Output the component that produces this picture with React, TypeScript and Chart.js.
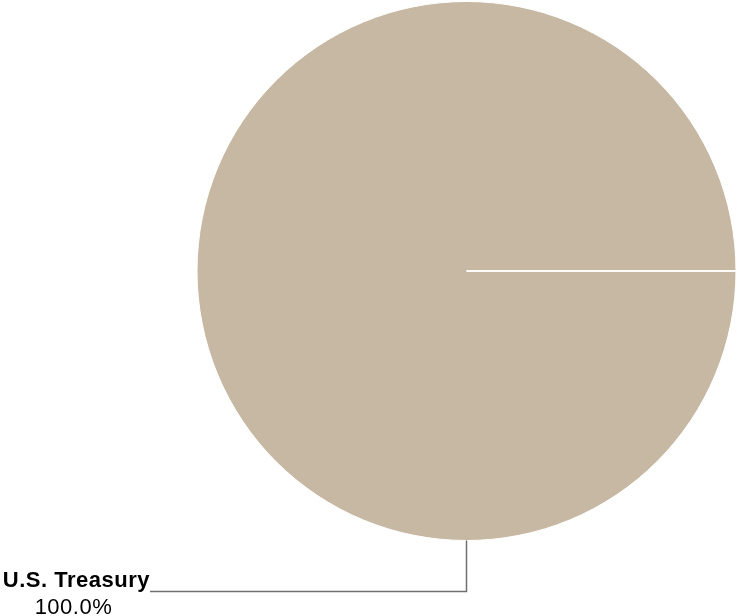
import React, { useEffect, useRef } from "react";
import { Chart, registerables } from "chart.js";

Chart.register(...registerables);

const categories: string[] = ["U.S. Treasury"];
const values: number[] = [100];
const sliceColors: string[] = ["#C7B8A3"];

const leaderPlugin = {
  id: "leaderPlugin",
  afterDatasetsDraw(chart: any) {
    const meta = chart.getDatasetMeta(0);
    const ctx = chart.ctx as CanvasRenderingContext2D;
    const total = values.reduce((a, b) => a + b, 0);
    meta.data.forEach((arc: any, i: number) => {
      const { x, y, startAngle, outerRadius } = arc.getProps(
        ["x", "y", "startAngle", "outerRadius"],
        true
      );
      // radial border line at slice start
      ctx.save();
      ctx.strokeStyle = "#ffffff";
      ctx.lineWidth = 1.5;
      ctx.beginPath();
      ctx.moveTo(x, y);
      ctx.lineTo(x + Math.cos(startAngle) * outerRadius, y + Math.sin(startAngle) * outerRadius);
      ctx.stroke();
      ctx.restore();

      // leader line from bottom of pie
      const bx = x;
      const by = y + outerRadius;
      const ly = by + 51;
      const lx = 150;
      ctx.save();
      ctx.strokeStyle = "#707070";
      ctx.lineWidth = 1.5;
      ctx.beginPath();
      ctx.moveTo(bx, by);
      ctx.lineTo(bx, ly);
      ctx.lineTo(lx, ly);
      ctx.stroke();

      const pct = ((values[i] / total) * 100).toFixed(1) + "%";
      ctx.fillStyle = "#000000";
      (ctx as any).letterSpacing = "0.5px";
      ctx.font = "bold 22px 'Liberation Sans', Arial, sans-serif";
      ctx.textBaseline = "alphabetic";
      ctx.textAlign = "left";
      const w1 = ctx.measureText(categories[i]).width;
      const x1 = lx - w1;
      ctx.fillText(categories[i], x1, ly - 5);
      ctx.font = "22px 'Liberation Sans', Arial, sans-serif";
      const w2 = ctx.measureText(pct).width;
      ctx.fillText(pct, x1 + (w1 - w2) / 2 - 3, ly + 22);
      ctx.restore();
    });
  },
};

export default function App() {
  const ref = useRef<HTMLCanvasElement | null>(null);
  useEffect(() => {
    if (!ref.current) return;
    const chart = new Chart(ref.current, {
      type: "pie",
      data: {
        labels: categories,
        datasets: [
          {
            data: values,
            backgroundColor: sliceColors,
            borderColor: "#ffffff",
            borderWidth: 1,
          },
        ],
      },
      options: {
        responsive: false,
        maintainAspectRatio: false,
        animation: false,
        rotation: 90,
        layout: { padding: { left: 196, right: 1, top: 1, bottom: 75 } },
        plugins: {
          legend: { display: false },
          tooltip: { enabled: false },
        },
      },
      plugins: [leaderPlugin],
    });
    return () => chart.destroy();
  }, []);
  return (
    <div style={{ position: "fixed", left: 0, top: 0, width: 738, height: 616, background: "#ffffff" }}>
      <canvas ref={ref} width={738} height={616} />
    </div>
  );
}
